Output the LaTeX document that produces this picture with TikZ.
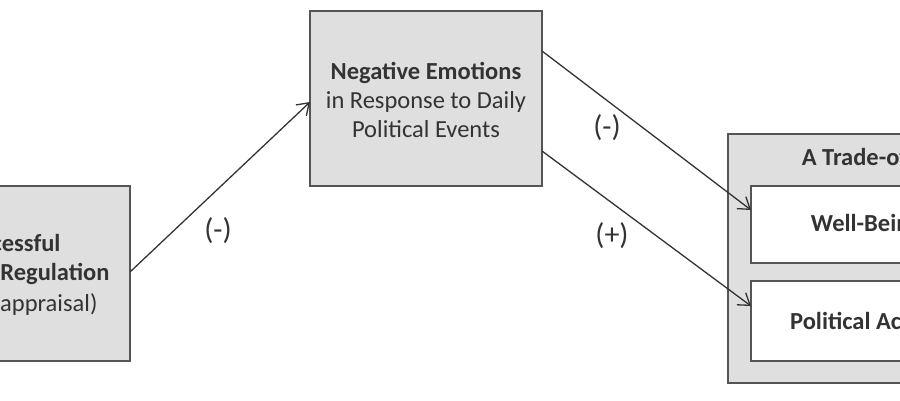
\documentclass[tikz,border=0pt]{standalone}
\usepackage{fontspec}
\setmainfont{Carlito}
\usetikzlibrary{arrows.meta}
\definecolor{boxfill}{HTML}{DFDFDF}
\definecolor{boxline}{HTML}{555555}
\definecolor{txt}{HTML}{333333}
\begin{document}
\begin{tikzpicture}[x=1pt,y=-1pt,
  gbox/.style={draw=boxline,fill=boxfill,line width=1.6pt,text=txt},
  wbox/.style={draw=boxline,fill=white,line width=1.6pt},
  lbl/.style={text=txt,font=\fontsize{24.5}{29}\selectfont,align=center},
  arr/.style={draw=black!80,line width=1.3pt,-{Straight Barb[length=11pt,width=15pt,line width=1.3pt]}},
  sgn/.style={text=txt,font=\fontsize{30}{32}\selectfont}]
\useasboundingbox (0,0) rectangle (900,400);
\clip (0,0) rectangle (900,400);
% left box
\draw[gbox] (-110,186) rectangle (130,361);
\coordinate (L) at (130,272);
\node[lbl,anchor=east] (l1) at (64,243) {\textbf{Successful}};
\node[lbl,anchor=east] (l2) at (113,274) {\textbf{Emotion Regulation}};
\node[lbl,anchor=east] (l3) at (101,305) {(Reappraisal)};
% middle box
\draw[gbox] (310,11) rectangle (542,186);
\coordinate (M1) at (310,102);
\coordinate (M2) at (542,51);
\coordinate (M3) at (542,151);
\node[lbl] (mtext) at (426,100) {\textbf{Negative Emotions}\\in Response to Daily\\Political Events};
% right outer box
\draw[gbox] (728,134) rectangle (1004,383);
\node[lbl] (rtitle) at (858,157) {\textbf{A Trade-off}};
\draw[wbox] (751,186) rectangle (981,263);
\draw[wbox] (751,281) rectangle (981,361);
\coordinate (W) at (751,210);
\coordinate (P) at (751,306);
\node[lbl] (wtext) at (866,225) {\textbf{Well-Being}};
\node[lbl] (ptext) at (866,321) {\textbf{Political Action}};
% arrows
\draw[arr] (L) -- (M1);
\draw[arr] (M2) -- (W);
\draw[arr] (M3) -- (P);
\node[sgn] (s1) at (218,231) {(-)};
\node[sgn] (s2) at (607,128) {(-)};
\node[sgn] (s3) at (612,236) {(+)};
\end{tikzpicture}
\end{document}
